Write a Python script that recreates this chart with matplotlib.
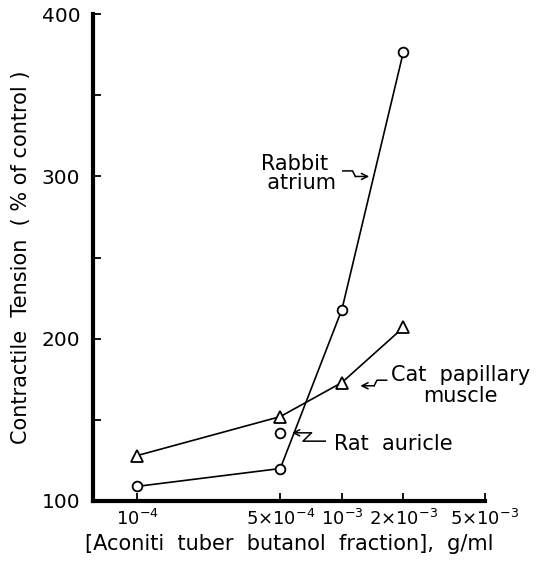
import matplotlib
matplotlib.use("Agg")
import matplotlib.pyplot as plt
import matplotlib.transforms as mtransforms
import matplotlib.ticker as mticker

# concentration (g/ml) and contractile tension (% of control)
conc = [1e-4, 5e-4, 1e-3, 2e-3]
rabbit_atrium = [109, 120, 218, 377]
cat_papillary = [128, 152, 173, 207]
rat_conc = [5e-4]
rat_auricle = [142]

xticks = [1e-4, 5e-4, 1e-3, 2e-3, 5e-3]
xticklabels = [r"$10^{-4}$", r"$5{\times}10^{-4}$", r"$10^{-3}$",
               r"$2{\times}10^{-3}$", r"$5{\times}10^{-3}$"]
yticks = [100, 200, 300, 400]
yminor = [150, 250, 350]

plt.rcParams["font.family"] = "DejaVu Sans"
plt.rcParams["mathtext.fontset"] = "dejavusans"

fig = plt.figure(figsize=(5.37, 5.68), dpi=100)
ax = fig.add_axes([0.173, 0.118, 0.730, 0.857])

ax.plot(conc, rabbit_atrium, "-o", color="black", lw=1.2, ms=7,
        mfc="white", mec="black", mew=1.3, zorder=3)
ax.plot(conc, cat_papillary, "-^", color="black", lw=1.2, ms=8,
        mfc="white", mec="black", mew=1.3, zorder=3)
ax.plot(rat_conc, rat_auricle, "o", ms=7, mfc="white", mec="black",
        mew=1.3, zorder=4)

ax.set_xscale("log")
ax.set_xlim(6.07e-5, 5e-3)
ax.set_ylim(100, 400)

ax.set_xticks(xticks)
ax.set_xticklabels(xticklabels, fontsize=13)
ax.xaxis.set_minor_locator(mticker.NullLocator())
ax.set_yticks(yticks)
ax.set_yticks(yminor, minor=True)
ax.tick_params(axis="y", labelsize=14.5, pad=9)
ax.tick_params(axis="x", pad=6)
ax.tick_params(which="both", direction="in", length=6, width=1.3)

for s in ("top", "right"):
    ax.spines[s].set_visible(False)
for s in ("left", "bottom"):
    ax.spines[s].set_linewidth(3)

ax.set_ylabel("Contractile  Tension  ( % of control )", fontsize=15, labelpad=8)
ax.set_xlabel("[Aconiti  tuber  butanol  fraction],  g/ml", fontsize=15, labelpad=3)


def zigzag(x0, y0, pts, tail):
    """Draw a zig-zag pointer (in points, relative to the tip at x0, y0)."""
    tr = (mtransforms.Affine2D().scale(1 / 72) + fig.dpi_scale_trans
          + mtransforms.ScaledTranslation(x0, y0, ax.transData))
    xs, ys = zip(*pts)
    ax.plot(xs, ys, color="black", lw=1.1, transform=tr, clip_on=False)
    ax.annotate("", xy=(x0, y0), xytext=tail, textcoords="offset points",
                arrowprops=dict(arrowstyle="->", lw=1.1, color="black",
                                shrinkA=0, shrinkB=0, mutation_scale=11))


# Rabbit atrium
ax.text(5.9e-4, 302, "Rabbit\n  atrium", fontsize=15, ha="center", va="center",
        linespacing=0.95)
zigzag(1.36e-3, 300, [(-19, 4), (-12, 4), (-10, 0)], (-10, 0))

# Cat papillary muscle
ax.text(3.8e-3, 171, "Cat  papillary\nmuscle", fontsize=15, ha="center",
        va="center", linespacing=1.05)
zigzag(1.23e-3, 171, [(19, 4), (12, 4), (10, 0)], (10, 0))

# Rat auricle
ax.text(9.1e-4, 135, "Rat  auricle", fontsize=15, ha="left", va="center")
zigzag(5.7e-4, 142, [(24, -6), (8, -6), (14, 0)], (14, 0))

fig.savefig("out.png", dpi=100)
